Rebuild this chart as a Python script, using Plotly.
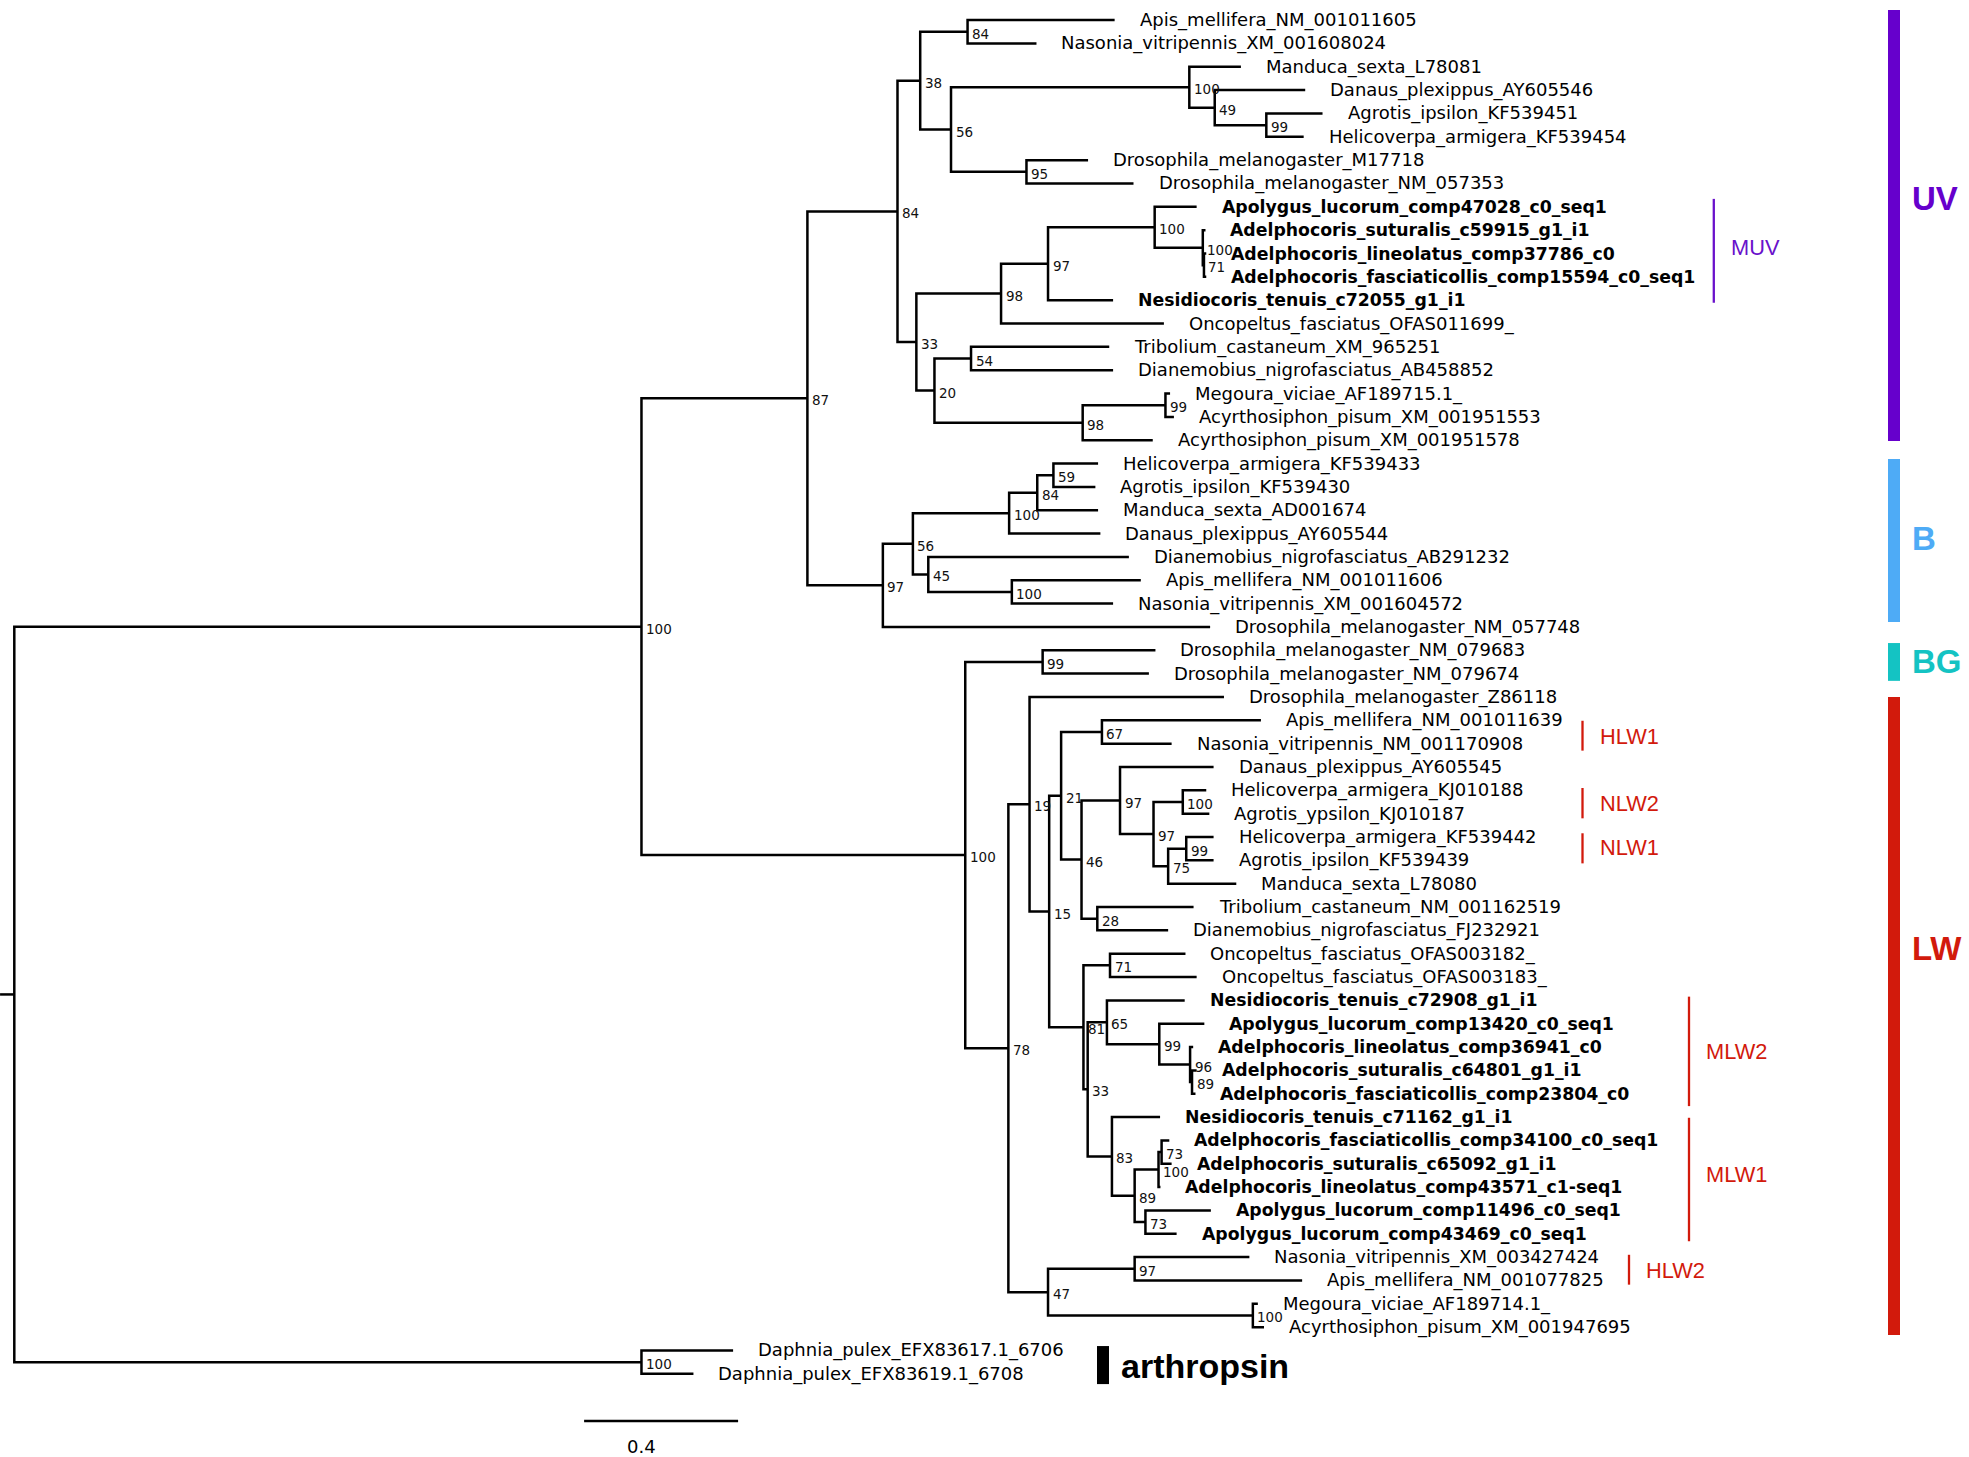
import plotly.graph_objects as go

# ---------------- DATA ----------------
leaf_names = [
    "Apis_mellifera_NM_001011605", "Nasonia_vitripennis_XM_001608024",
    "Manduca_sexta_L78081", "Danaus_plexippus_AY605546", "Agrotis_ipsilon_KF539451",
    "Helicoverpa_armigera_KF539454", "Drosophila_melanogaster_M17718",
    "Drosophila_melanogaster_NM_057353", "Apolygus_lucorum_comp47028_c0_seq1",
    "Adelphocoris_suturalis_c59915_g1_i1", "Adelphocoris_lineolatus_comp37786_c0",
    "Adelphocoris_fasciaticollis_comp15594_c0_seq1", "Nesidiocoris_tenuis_c72055_g1_i1",
    "Oncopeltus_fasciatus_OFAS011699_", "Tribolium_castaneum_XM_965251",
    "Dianemobius_nigrofasciatus_AB458852", "Megoura_viciae_AF189715.1_",
    "Acyrthosiphon_pisum_XM_001951553", "Acyrthosiphon_pisum_XM_001951578",
    "Helicoverpa_armigera_KF539433", "Agrotis_ipsilon_KF539430", "Manduca_sexta_AD001674",
    "Danaus_plexippus_AY605544", "Dianemobius_nigrofasciatus_AB291232",
    "Apis_mellifera_NM_001011606", "Nasonia_vitripennis_XM_001604572",
    "Drosophila_melanogaster_NM_057748", "Drosophila_melanogaster_NM_079683",
    "Drosophila_melanogaster_NM_079674", "Drosophila_melanogaster_Z86118",
    "Apis_mellifera_NM_001011639", "Nasonia_vitripennis_NM_001170908",
    "Danaus_plexippus_AY605545", "Helicoverpa_armigera_KJ010188", "Agrotis_ypsilon_KJ010187",
    "Helicoverpa_armigera_KF539442", "Agrotis_ipsilon_KF539439", "Manduca_sexta_L78080",
    "Tribolium_castaneum_NM_001162519", "Dianemobius_nigrofasciatus_FJ232921",
    "Oncopeltus_fasciatus_OFAS003182_", "Oncopeltus_fasciatus_OFAS003183_",
    "Nesidiocoris_tenuis_c72908_g1_i1", "Apolygus_lucorum_comp13420_c0_seq1",
    "Adelphocoris_lineolatus_comp36941_c0", "Adelphocoris_suturalis_c64801_g1_i1",
    "Adelphocoris_fasciaticollis_comp23804_c0", "Nesidiocoris_tenuis_c71162_g1_i1",
    "Adelphocoris_fasciaticollis_comp34100_c0_seq1", "Adelphocoris_suturalis_c65092_g1_i1",
    "Adelphocoris_lineolatus_comp43571_c1-seq1", "Apolygus_lucorum_comp11496_c0_seq1",
    "Apolygus_lucorum_comp43469_c0_seq1", "Nasonia_vitripennis_XM_003427424",
    "Apis_mellifera_NM_001077825", "Megoura_viciae_AF189714.1_",
    "Acyrthosiphon_pisum_XM_001947695", "Daphnia_pulex_EFX83617.1_6706",
    "Daphnia_pulex_EFX83619.1_6708",
]

# distance from root (substitutions/site) of each leaf tip
leaf_depth = [
    2.858, 2.655, 3.186, 3.353, 3.398, 3.349, 2.789, 2.907, 3.071, 3.094,
    3.096, 3.096, 2.854, 2.986, 2.844, 2.854, 3.002, 3.012, 2.957, 2.815,
    2.808, 2.815, 2.821, 2.895, 2.926, 2.854, 3.106, 2.964, 2.947, 3.142,
    3.238, 3.006, 3.115, 3.096, 3.104, 3.115, 3.115, 3.174, 3.063, 2.997,
    3.042, 3.071, 3.040, 3.091, 3.062, 3.071, 3.068, 2.976, 3.000, 3.006,
    2.977, 3.108, 3.019, 3.208, 3.345, 3.230, 3.246, 1.867, 1.764,
]

# index of the internal node each leaf hangs from
leaf_parent = [
    9, 9, 11, 12, 13, 13, 14, 14, 17, 18,
    19, 19, 16, 15, 21, 21, 23, 23, 22, 27,
    27, 26, 25, 28, 29, 29, 6, 30, 30, 32,
    35, 35, 37, 39, 39, 41, 41, 40, 42, 42,
    44, 44, 46, 47, 48, 49, 49, 50, 53, 53,
    52, 54, 54, 56, 56, 57, 57, 2, 2,
]

bold_leaves = [8, 9, 10, 11, 12, 42, 43, 44, 45, 46, 47, 48, 49, 50, 51, 52]

# internal nodes: depth, parent node, bootstrap support
node_depth = [
    0.000, 1.629, 1.629, 2.060, 2.470, 2.294, 2.256, 2.353, 2.343, 2.476,
    2.433, 3.052, 3.118, 3.252, 2.629, 2.563, 2.685, 2.962, 3.087, 3.090,
    2.390, 2.485, 2.775, 2.990, 2.334, 2.584, 2.657, 2.699, 2.374, 2.591,
    2.671, 2.582, 2.637, 2.688, 2.719, 2.825, 2.772, 2.872, 2.959, 3.035,
    2.997, 3.044, 2.813, 2.777, 2.846, 2.788, 2.838, 2.974, 3.054, 3.059,
    2.851, 2.910, 2.972, 2.980, 2.938, 2.685, 2.910, 3.217,
]
node_parent = [
    None, 0, 0, 1, 1, 3, 3, 5, 5, 7,
    7, 10, 11, 12, 10, 8, 15, 16, 17, 18,
    8, 20, 20, 22, 6, 24, 25, 26, 24, 28,
    4, 4, 31, 32, 33, 34, 34, 36, 37, 38,
    38, 40, 36, 33, 43, 43, 45, 46, 47, 48,
    45, 50, 51, 52, 51, 31, 55, 55,
]
node_support = [
    "", "100", "100", "87", "100", "84", "97", "38", "33", "84",
    "56", "100", "49", "99", "95", "98", "97", "100", "100", "71",
    "20", "54", "98", "99", "56", "100", "84", "59", "45", "100",
    "99", "78", "19", "15", "21", "67", "46", "97", "97", "100",
    "75", "99", "28", "81", "71", "33", "65", "99", "96", "89",
    "83", "89", "100", "73", "73", "47", "97", "100",
]

root_branch = 0.037
scale_bar_start = 1.480
scale_bar_length = 0.4
scale_label_x = 1.628

# clade bars (leaf-index extents)
clade_names = ["UV", "B", "BG", "LW"]
clade_y0 = [-0.43, 18.80, 26.69, 29.00]
clade_y1 = [18.03, 25.79, 28.31, 56.34]
clade_ytext = [7.66, 22.22, 27.49, 39.79]
clade_colors = ["#6600CC", "#4EABF6", "#14C3C3", "#D21A0C"]

sub_names = ["MUV", "HLW1", "NLW2", "NLW1", "MLW2", "MLW1", "HLW2"]
sub_y0 = [7.66, 30.02, 32.90, 34.84, 41.84, 47.03, 52.90]
sub_y1 = [12.11, 31.30, 34.20, 36.13, 46.53, 52.32, 54.18]
sub_ytext = [9.76, 30.70, 33.56, 35.47, 44.17, 49.47, 53.56]
sub_colors = ["#6A11CB", "#D21A0C", "#D21A0C", "#D21A0C", "#D21A0C", "#D21A0C", "#D21A0C"]

outgroup_name = "arthropsin"
outgroup_y0, outgroup_y1, outgroup_ytext = 56.81, 58.44, 57.66

# ---------------- LAYOUT CONSTANTS ----------------
W, H = 1969, 1457
PX_PER_UNIT = 385.0
ROOT_PX = 14.3
Y0_PX, ROW_PX = 20.1, 23.34
x_min = -ROOT_PX / PX_PER_UNIT
x_max = x_min + W / PX_PER_UNIT
y_min = -Y0_PX / ROW_PX
y_max = y_min + H / ROW_PX

def px2paper(px):
    return px / W

# ---------------- TREE GEOMETRY ----------------
n_nodes = len(node_depth)
children = {k: [] for k in range(n_nodes)}
for j, p in enumerate(leaf_parent):
    children[p].append(("L", j))
for k, p in enumerate(node_parent):
    if p is not None:
        children[p].append(("N", k))

node_y = [None] * n_nodes

def get_y(ref):
    kind, idx = ref
    if kind == "L":
        return float(idx)
    if node_y[idx] is None:
        ys = [get_y(c) for c in children[idx]]
        node_y[idx] = (min(ys) + max(ys)) / 2.0
    return node_y[idx]

def get_x(ref):
    kind, idx = ref
    return leaf_depth[idx] if kind == "L" else node_depth[idx]

get_y(("N", 0))

xs, ys = [], []
for k in range(n_nodes):
    ch = sorted(children[k], key=get_y)
    first, last = ch[0], ch[-1]
    xs += [get_x(first), node_depth[k], node_depth[k], get_x(last), None]
    ys += [get_y(first), get_y(first), get_y(last), get_y(last), None]
    for c in ch[1:-1]:
        xs += [node_depth[k], get_x(c), None]
        ys += [get_y(c), get_y(c), None]
# root stub
xs += [node_depth[0] - root_branch, node_depth[0], None]
ys += [node_y[0], node_y[0], None]

fig = go.Figure()
fig.add_trace(go.Scatter(
    x=xs, y=ys, mode="lines",
    line=dict(color="black", width=2.5),
    hoverinfo="skip", showlegend=False,
))

# scale bar
sb_y = 60.02
fig.add_trace(go.Scatter(
    x=[scale_bar_start, scale_bar_start + scale_bar_length], y=[sb_y, sb_y],
    mode="lines", line=dict(color="black", width=2.5),
    hoverinfo="skip", showlegend=False,
))

annotations = []
LEAF_FONT = "DejaVu Sans"
for j, name in enumerate(leaf_names):
    bold = j in bold_leaves
    annotations.append(dict(
        x=leaf_depth[j], y=j, xref="x", yref="y",
        text=f"<b>{name}</b>" if bold else name,
        showarrow=False, xanchor="left", yanchor="middle", xshift=23,
        font=dict(family=LEAF_FONT, size=17.3 if bold else 18, color="black"),
    ))

for k in range(n_nodes):
    if node_support[k]:
        annotations.append(dict(
            x=node_depth[k], y=node_y[k], xref="x", yref="y",
            text=node_support[k], showarrow=False,
            xanchor="left", yanchor="middle", xshift=2.5, yshift=-2,
            font=dict(family=LEAF_FONT, size=13.5, color="#111111"),
        ))

annotations.append(dict(
    x=scale_label_x, y=61.13, xref="x", yref="y",
    text=str(scale_bar_length), showarrow=False, xanchor="center", yanchor="middle",
    font=dict(family=LEAF_FONT, size=18, color="black"),
))

shapes = []
for name, y0, y1, yt, col in zip(clade_names, clade_y0, clade_y1, clade_ytext, clade_colors):
    shapes.append(dict(type="rect", xref="paper", yref="y",
                       x0=px2paper(1888), x1=px2paper(1900), y0=y0, y1=y1,
                       fillcolor=col, line=dict(width=0)))
    annotations.append(dict(
        x=px2paper(1910), y=yt, xref="paper", yref="y", text=f"<b>{name}</b>",
        showarrow=False, xanchor="left", yanchor="middle",
        font=dict(family="Liberation Sans", size=33, color=col),
    ))

sub_line_px = [1713.8, 1582.5, 1582.5, 1582.5, 1689.0, 1689.0, 1629.0]
for name, y0, y1, yt, col, lx in zip(sub_names, sub_y0, sub_y1, sub_ytext, sub_colors, sub_line_px):
    shapes.append(dict(type="line", xref="paper", yref="y",
                       x0=px2paper(lx), x1=px2paper(lx), y0=y0, y1=y1,
                       line=dict(color=col, width=2.3)))
    annotations.append(dict(
        x=px2paper(lx + 15), y=yt, xref="paper", yref="y", text=name,
        showarrow=False, xanchor="left", yanchor="middle",
        font=dict(family="Liberation Sans", size=21.8, color=col),
    ))

shapes.append(dict(type="rect", xref="paper", yref="y",
                   x0=px2paper(1097), x1=px2paper(1109), y0=outgroup_y0, y1=outgroup_y1,
                   fillcolor="black", line=dict(width=0)))
annotations.append(dict(
    x=px2paper(1119), y=outgroup_ytext, xref="paper", yref="y",
    text=f"<b>{outgroup_name}</b>", showarrow=False, xanchor="left", yanchor="middle",
    font=dict(family="Liberation Sans", size=34, color="black"),
))

fig.update_layout(
    width=W, height=H,
    margin=dict(l=0, r=0, t=0, b=0),
    paper_bgcolor="white", plot_bgcolor="white",
    xaxis=dict(range=[x_min, x_max], visible=False, fixedrange=True),
    yaxis=dict(range=[y_max, y_min], visible=False, fixedrange=True),
    annotations=annotations, shapes=shapes,
    showlegend=False,
)

fig.write_html(
    "out.html",
    config={"displayModeBar": False},
    post_script="document.body.style.margin='0px';document.body.style.overflow='hidden';",
)
